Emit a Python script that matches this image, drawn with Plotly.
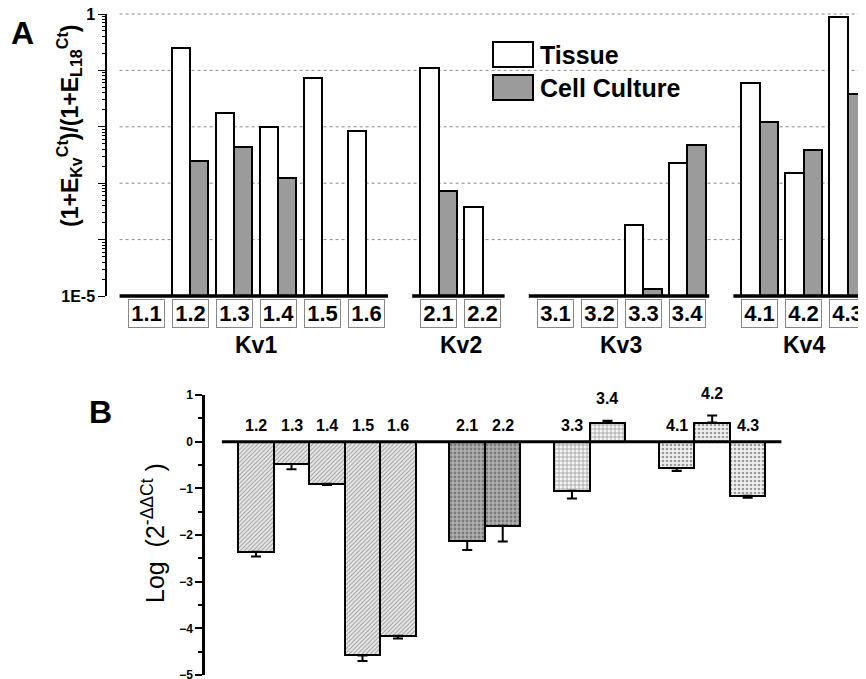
import plotly.graph_objects as go

# ---------------- Data ----------------
# Panel A
a_labels = ["1.1", "1.2", "1.3", "1.4", "1.5", "1.6",
            "2.1", "2.2",
            "3.1", "3.2", "3.3", "3.4",
            "4.1", "4.2", "4.3"]
a_group = [0, 0, 0, 0, 0, 0, 1, 1, 2, 2, 2, 2, 3, 3, 3]
group_names = ["Kv1", "Kv2", "Kv3", "Kv4"]
tissue = [None, 0.25, 0.0176, 0.0099, 0.073, 0.0084,
          0.11, 0.00038,
          None, None, 0.00018, 0.0023,
          0.060, 0.0015, 0.885]
culture = [None, 0.00247, 0.0044, 0.00124, None, None,
           0.00073, None,
           None, None, 1.33e-5, 0.00475,
           0.0122, 0.0039, 0.038]

# Panel B
b_labels = ["1.2", "1.3", "1.4", "1.5", "1.6", "2.1", "2.2", "3.3", "3.4", "4.1", "4.2", "4.3"]
b_group = [0, 0, 0, 0, 0, 1, 1, 2, 2, 3, 3, 3]
b_values = [-2.36, -0.48, -0.90, -4.58, -4.16, -2.13, -1.80, -1.05, 0.41, -0.57, 0.41, -1.16]
b_errors = [0.10, 0.11, 0.03, 0.12, 0.06, 0.19, 0.34, 0.17, 0.04, 0.06, 0.15, 0.04]

# ---------------- Layout helpers ----------------
W, H = 866, 679
OFF = 8                      # page body margin
FW, FH = W - OFF, H - OFF    # figure size so it fits the window
FONT = "Liberation Sans, Arial, Helvetica, sans-serif"


def px_x(p):
    return (p - OFF) / FW


def px_y(p):
    return 1 - (p - OFF) / FH


A_GAP = 0.65
B_GAP = 0.95
a_pos = [i + g * A_GAP for i, g in enumerate(a_group)]
b_pos = [i + g * B_GAP for i, g in enumerate(b_group)]
BW = 0.42

fig = go.Figure()

# Panel A bars
fig.add_trace(go.Bar(
    x=[p - BW / 2 for p in a_pos], y=tissue, width=BW, name="Tissue",
    marker=dict(color="white", line=dict(color="black", width=2)),
    xaxis="x", yaxis="y", showlegend=False))
fig.add_trace(go.Bar(
    x=[p + BW / 2 for p in a_pos], y=culture, width=BW, name="Cell Culture",
    marker=dict(color="#9b9b9b", line=dict(color="black", width=2)),
    xaxis="x", yaxis="y", showlegend=False))

# Panel B bars
pat_shape = {0: "/", 1: ".", 2: "+", 3: "."}
pat_bg = {0: "#e8e8e8", 1: "#b0b0b0", 2: "#f4f4f4", 3: "#f0f0f0"}
pat_fg = {0: "#b4b4b4", 1: "#969696", 2: "#8a8a8a", 3: "#b4b4b4"}
pat_size = {0: 3, 1: 4, 2: 4, 3: 4}
pat_sol = {0: 0.3, 1: 0.4, 2: 0.35, 3: 0.35}
fig.add_trace(go.Bar(
    x=b_pos, y=b_values, width=1.0,
    marker=dict(
        color=[pat_bg[g] for g in b_group],
        line=dict(color="black", width=2),
        pattern=dict(shape=[pat_shape[g] for g in b_group],
                     fgcolor=[pat_fg[g] for g in b_group],
                     size=[pat_size[g] for g in b_group],
                     solidity=[pat_sol[g] for g in b_group],
                     fillmode="overlay")),
    error_y=dict(type="data", symmetric=False,
                 array=[e if v > 0 else 0 for v, e in zip(b_values, b_errors)],
                 arrayminus=[e if v < 0 else 0 for v, e in zip(b_values, b_errors)],
                 color="black", thickness=2, width=5),
    xaxis="x2", yaxis="y2", showlegend=False))

shapes = []
annotations = []


def ann(**kw):
    kw.setdefault("showarrow", False)
    kw.setdefault("xanchor", "center")
    kw.setdefault("yanchor", "middle")
    annotations.append(kw)


# Panel A gridlines (dotted) at decades
for k in range(1, 6):
    shapes.append(dict(type="line", xref="x", yref="y domain",
                       x0=-0.6, x1=17, y0=k / 5, y1=k / 5,
                       line=dict(color="#8a8a8a", width=1, dash="dot"),
                       layer="below"))

# Panel A baseline segments per group
for g in range(4):
    ps = [p for p, gg in zip(a_pos, a_group) if gg == g]
    shapes.append(dict(type="line", xref="x", yref="y domain",
                       x0=ps[0] - 0.6, x1=ps[-1] + 0.5, y0=0, y1=0,
                       line=dict(color="black", width=3.5), layer="above"))
    ann(x=sum(ps) / len(ps), y=px_y(345), xref="x", yref="paper",
        text="<b>%s</b>" % group_names[g],
        font=dict(size=23, color="black", family=FONT))

# Panel A category boxes
for p, lab in zip(a_pos, a_labels):
    ann(x=p, y=px_y(313), xref="x", yref="paper",
        text="<b>%s</b>" % lab,
        font=dict(size=22, color="black", family=FONT),
        bordercolor="#888888", borderwidth=1, borderpad=0,
        width=35, height=27)

# Legend (custom)
shapes.append(dict(type="rect", xref="paper", yref="paper",
                   x0=px_x(493), x1=px_x(533), y0=px_y(67), y1=px_y(42),
                   line=dict(color="black", width=2), fillcolor="white"))
shapes.append(dict(type="rect", xref="paper", yref="paper",
                   x0=px_x(493), x1=px_x(533), y0=px_y(100), y1=px_y(75),
                   line=dict(color="black", width=2), fillcolor="#9b9b9b"))
ann(x=px_x(538), y=px_y(55), xref="paper", yref="paper",
    xanchor="left", text="<b>Tissue</b>",
    font=dict(size=25, color="black", family=FONT))
ann(x=px_x(538), y=px_y(88), xref="paper", yref="paper",
    xanchor="left", text="<b>Cell Culture</b>",
    font=dict(size=25, color="black", family=FONT))

# Panel B zero line
shapes.append(dict(type="line", xref="x2", yref="y2",
                   x0=b_pos[0] - 0.96, x1=b_pos[-1] + 0.95, y0=0, y1=0,
                   line=dict(color="black", width=3), layer="above"))

# Panel B bar labels
for p, lab, v, e in zip(b_pos, b_labels, b_values, b_errors):
    yy = 0.12 if v < 0 else v + e + 0.25
    ann(x=p, y=yy, xref="x2", yref="y2", yanchor="bottom",
        text="<b>%s</b>" % lab,
        font=dict(size=16, color="black", family=FONT))

# Panel letters and titles
ann(x=px_x(22), y=px_y(33), xref="paper", yref="paper",
    text="<b>A</b>", font=dict(size=32, color="black", family=FONT))
ann(x=px_x(100), y=px_y(412), xref="paper", yref="paper",
    text="<b>B</b>", font=dict(size=32, color="black", family=FONT))
ann(x=px_x(69), y=px_y(126), xref="paper", yref="paper",
    textangle=-90,
    text="<b>(1+E<sub>Kv</sub><sup>Ct</sup>)/(1+E<sub>L18</sub><sup>Ct</sup>)</b>",
    font=dict(size=23, color="black", family=FONT))
ann(x=px_x(153), y=px_y(533), xref="paper", yref="paper",
    textangle=-90,
    text="Log  (2<sup>-ΔΔCt</sup> )",
    font=dict(size=25, color="black", family=FONT))

minor_a = [m * 10 ** e for e in range(-5, 0) for m in range(2, 10)]

fig.update_layout(
    template="none",
    width=FW, height=FH, autosize=False,
    margin=dict(l=0, r=0, t=0, b=0, pad=0),
    paper_bgcolor="white", plot_bgcolor="rgba(0,0,0,0)",
    font=dict(family=FONT, color="black"),
    bargap=0, barmode="overlay", showlegend=False,
    xaxis=dict(domain=[px_x(107), 1], range=[(107 - 146) / 44, (866 - 146) / 44],
               visible=False, anchor="y", automargin=False),
    yaxis=dict(domain=[px_y(296), px_y(14)], type="log", range=[-5, 0],
               anchor="x", showgrid=False, zeroline=False, automargin=False,
               showline=True, linecolor="black", linewidth=1.5,
               tickmode="array", tickvals=[1e-5, 1e-4, 1e-3, 1e-2, 1e-1, 1],
               ticktext=["1E-5", "", "", "", "", "1"],
               ticklabeloverflow="allow",
               ticks="outside", ticklen=7, tickwidth=1.2, tickcolor="black",
               tickfont=dict(size=16, color="black", family=FONT, weight="bold"),
               minor=dict(tickmode="array", tickvals=minor_a, ticks="outside",
                          ticklen=3, tickwidth=1, tickcolor="black", showgrid=False)),
    xaxis2=dict(domain=[px_x(205), 1], range=[(205 - 256) / 35.5, (866 - 256) / 35.5],
                visible=False, anchor="y2", automargin=False),
    yaxis2=dict(domain=[px_y(675), px_y(395)], range=[-5, 1], anchor="x2",
                showgrid=False, zeroline=False, automargin=False,
                showline=True, linecolor="black", linewidth=2.5,
                tickmode="array", tickvals=[-5, -4, -3, -2, -1, 0, 1],
                ticklabeloverflow="allow",
                ticks="outside", ticklen=7, tickwidth=2, tickcolor="black",
                tickfont=dict(size=12, color="black", family=FONT, weight="bold"),
                minor=dict(tickmode="array", tickvals=[-4.5, -3.5, -2.5, -1.5, -0.5, 0.5],
                           ticks="outside", ticklen=4, tickwidth=2, tickcolor="black",
                           showgrid=False)),
    shapes=shapes, annotations=annotations,
)

fig.write_html("out.html")
